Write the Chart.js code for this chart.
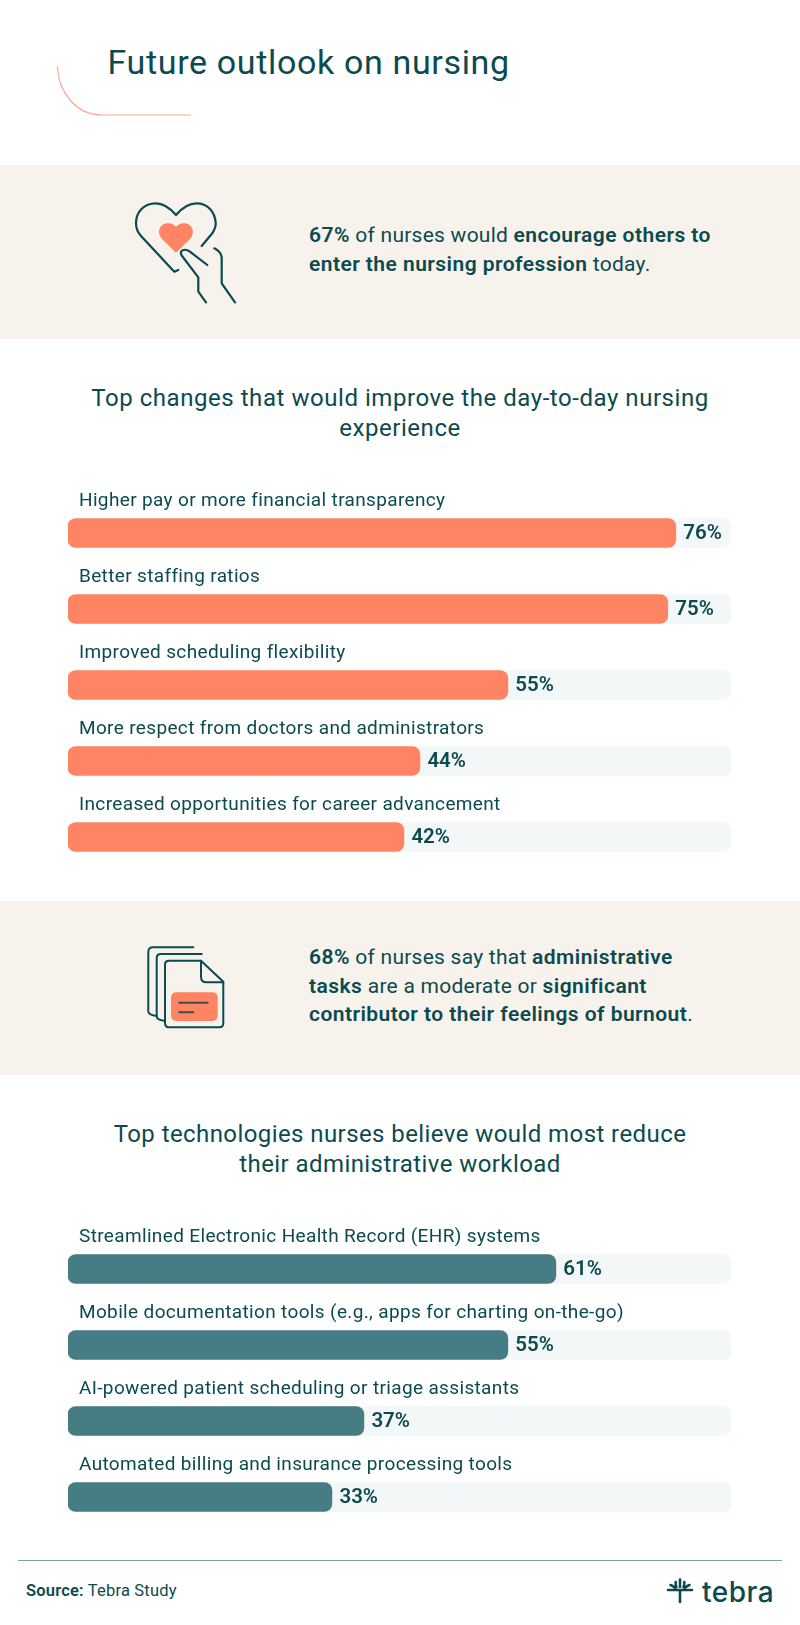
<!DOCTYPE html>
<html>
<head>
<meta charset="utf-8">
<title>Future outlook on nursing</title>
<script src="https://cdn.jsdelivr.net/npm/chart.js@4"></script>
<style>
    html, body { margin: 0; padding: 0; background: #fff; }
    #page { position: relative; width: 800px; height: 1625px; overflow: hidden; font-family: Roboto, sans-serif; color: #0b4a4f; }
    #page > * { position: absolute; }
    .band { left: 0; width: 800px; background: #f7f3ec; }
    .heading { left: 0; width: 800px; text-align: center; font-size: 24px; line-height: 29.5px; letter-spacing: 0.55px; }
    .stat { left: 309px; font-size: 21px; line-height: 28.5px; white-space: nowrap; letter-spacing: 0.25px; }
    .stat b { font-weight: 600; letter-spacing: 0.45px; }
    canvas { display: block; }
</style>
</head>
<body>
<div id="page">
    <svg style="left:0;top:0" width="220" height="130" fill="none"><path d="M57.500 66 C58 92 76 115 102 115 L191 115" stroke="#f9a897" stroke-width="1.2"/></svg>
    <div style="left:107.500px;top:40px;font-size:34px;line-height:44px;letter-spacing:0.65px;white-space:nowrap">Future outlook on nursing</div>

    <div class="band" style="top:165px;height:174px"></div>
    <svg style="left:120px;top:190px" width="130" height="125" fill="none" stroke="#0b4a4f" stroke-width="2.2" stroke-linecap="round" stroke-linejoin="round">
        <path d="M81.700 56 L92.300 43.300 C95 39 96 36 95.700 33 C95 21 87 13.300 76.700 13.300 C68 13.300 61 19 56 25 C51 19 44 13.300 35.700 13.300 C24 13.300 16 22 16 33.300 C16 38 18 43 21.700 46.700 L54.300 81.700 L58.300 80"/>
        <path d="M87.300 75 L70 61.700 C65 58 58.500 60 61.700 65.500 L78.300 87.300 L78.300 101.700 L86 112.300"/>
        <path d="M94.300 58.300 Q101.700 62 101.700 68.300 L101.700 93.300 L115 112.300"/>
        <path d="M56 62.700 L42 49 C36 42 40 33.300 48 33.300 C52 33.300 54 35 56 36.700 C58 35 60 33.300 64 33.300 C72 33.300 76 42 70 49 Z" fill="#ff8464" stroke="none"/>
    </svg>
    <div class="stat" style="top:221px"><b>67%</b> of nurses would <b>encourage others to</b><br><b>enter the nursing profession</b> today.</div>

    <div class="heading" style="top:384px">Top changes that would improve the day-to-day nursing<br>experience</div>
    <canvas id="changesChart" width="800" height="415" style="left:0;top:460px"></canvas>

    <div class="band" style="top:900.5px;height:174px"></div>
    <svg style="left:140px;top:940px" width="100" height="100" fill="none" stroke="#0b4a4f" stroke-width="2" stroke-linejoin="round" stroke-linecap="round">
        <path d="M53.300 7.300 L13 7.300 Q8.300 7.300 8.300 12 L8.300 71.700 Q9 75 16.700 76"/>
        <path d="M61.700 14 L21 14 Q16.700 14 16.700 18 L16.700 76.700 Q17 80 24 80.700"/>
        <path d="M61 20.700 L29 20.700 Q25 20.700 25 24.700 L25 83.300 Q25 87.300 29 87.300 L79.300 87.300 Q83.300 87.300 83.300 83.300 L83.300 41.700 Z"/>
        <path d="M61 20.700 L61 36.700 Q61 42.300 66.700 42.300 L83.300 42.300"/>
        <rect x="31" y="52.300" width="46.700" height="28.700" rx="5" fill="#ff8464" stroke="none"/>
        <path d="M39.300 62.700 L67.700 62.700 M39.300 72.300 L53.300 72.300" stroke="#3d4f4a"/>
    </svg>
    <div class="stat" style="top:943px"><b>68%</b> of nurses say that <b>administrative</b><br><b>tasks</b> are a moderate or <b>significant</b><br><b>contributor to their feelings of burnout</b>.</div>

    <div class="heading" style="top:1120px;letter-spacing:0.42px">Top technologies nurses believe would most reduce<br>their administrative workload</div>
    <canvas id="techChart" width="800" height="340" style="left:0;top:1195px"></canvas>

    <div style="left:18px;top:1560px;width:764px;height:1px;background:#7f9fa2"></div>
    <div style="left:26px;top:1580px;font-size:16.500px;line-height:22px;white-space:nowrap;letter-spacing:0.2px"><b style="font-weight:600">Source:</b> Tebra Study</div>
    <svg style="left:665px;top:1576px" width="32" height="30" fill="none" stroke="#0b4a4f" stroke-width="2.6" stroke-linecap="round">
        <path d="M3 14 L27 14 M15 14 L15 26"/>
        <path d="M15 3.500 L15 11 M10.700 6 Q10.500 10 11.500 11.200 M19.300 6 Q19.500 10 18.500 11.200 M5.500 9 Q8 10 10 11.800 M24.500 9 Q22 10 20 11.800"/>
    </svg>
    <div style="left:702px;top:1577px;font-family:Inter,sans-serif;font-weight:500;font-size:28px;line-height:30px;letter-spacing:0.5px;white-space:nowrap">tebra</div>
</div>

<script>
// ---- Veriler ----
const changeLabels = [
    "Higher pay or more financial transparency",
    "Better staffing ratios",
    "Improved scheduling flexibility",
    "More respect from doctors and administrators",
    "Increased opportunities for career advancement"
];
const changeValues = [76, 75, 55, 44, 42];

const techLabels = [
    "Streamlined Electronic Health Record (EHR) systems",
    "Mobile documentation tools (e.g., apps for charting on-the-go)",
    "AI-powered patient scheduling or triage assistants",
    "Automated billing and insurance processing tools"
];
const techValues = [61, 55, 37, 33];

// Gri zemin çubuğu eksenin sonuna kadar gidiyor
const axisMax = 82.9;

const textColor = "#0b4a4f";
const fontFamily = "Roboto, sans-serif";

// Kategori adı çubuğun üstüne, yüzde değeri çubuğun sağına yazılıyor
const barTextPlugin = {
    id: "barText",
    afterDatasetsDraw(chart) {
        const ctx = chart.ctx;
        const xScale = chart.scales.x;
        const yScale = chart.scales.y;
        const values = chart.data.datasets[0].data;

        ctx.save();
        ctx.fillStyle = textColor;
        ctx.textBaseline = "middle";
        ctx.textAlign = "left";

        chart.data.labels.forEach(function (label, i) {
            const y = yScale.getPixelForValue(i);

            ctx.font = "400 19px " + fontFamily;
            ctx.letterSpacing = "0.35px";
            ctx.fillText(label, 79, y - 32);

            ctx.font = "600 20.5px " + fontFamily;
            ctx.letterSpacing = "0px";
            ctx.fillText(values[i] + "%", xScale.getPixelForValue(values[i]) + 7.5, y + 1);
        });
        ctx.restore();
    }
};

function drawBars(canvasId, labels, values, color, topPadding) {
    new Chart(document.getElementById(canvasId), {
        type: "bar",
        data: {
            labels: labels,
            datasets: [
                {
                    data: values,
                    backgroundColor: color,
                    borderRadius: 8,
                    borderSkipped: false,
                    barThickness: 29,
                    order: 1
                },
                {
                    data: labels.map(function () { return axisMax; }),
                    backgroundColor: "#f3f7f8",
                    borderRadius: 8,
                    borderSkipped: false,
                    barThickness: 29,
                    order: 2
                }
            ]
        },
        options: {
            indexAxis: "y",
            responsive: false,
            animation: false,
            layout: {
                padding: { left: 68, right: 69, top: topPadding, bottom: 0 }
            },
            plugins: {
                legend: { display: false },
                tooltip: { enabled: false }
            },
            datasets: {
                bar: { grouped: false }
            },
            scales: {
                x: { display: false, min: 0, max: axisMax },
                y: { display: false }
            }
        },
        plugins: [barTextPlugin]
    });
}

drawBars("changesChart", changeLabels, changeValues, "#ff8464", 35);
drawBars("techChart", techLabels, techValues, "#467c84", 36);
</script>
</body>
</html>
